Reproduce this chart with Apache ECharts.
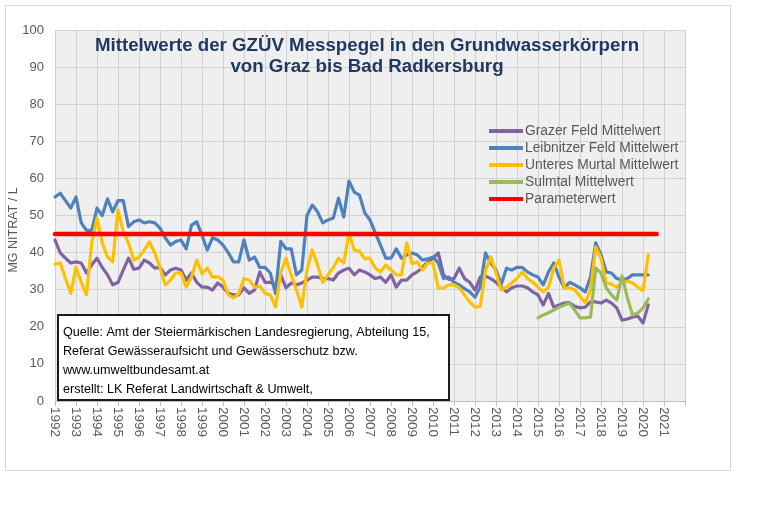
<!DOCTYPE html>
<html>
<head>
<meta charset="utf-8">
<script src="https://cdn.jsdelivr.net/npm/echarts/dist/echarts.min.js"></script>
<style>
html,body{margin:0;padding:0;background:#ffffff;}
#chart{width:759px;height:510px;}
</style>
</head>
<body>
<div id="chart"></div>
<script>
// ---------- data (quarterly readings, first value at startYear) ----------
const startYear = 1992;
const stepYears = 0.25;
const sulmtalStartYear = 2015;

const yearTicks = [1992,1993,1994,1995,1996,1997,1998,1999,2000,2001,2002,2003,2004,2005,2006,
                   2007,2008,2009,2010,2011,2012,2013,2014,2015,2016,2017,2018,2019,2020,2021];

const seriesNames = ['Grazer Feld Mittelwert','Leibnitzer Feld Mittelwert','Unteres Murtal Mittelwert','Sulmtal Mittelwert','Parameterwert'];

const grazerFeld = [43.4,39.9,38.5,37.2, 37.5,37.2,34.5,36.7, 38.5,36,34,31.3, 32,35.3,38.5,35.5,
  35.8,38,37.2,35.8, 36,34,35.3,35.8, 35.3,32.6,34.5,32, 30.7,30.7,29.9,31.8,
  30.7,29,28.6,28.6, 30.5,29,29.9,34.8, 32,32,31.3,34, 30.5,31.8,31.3,31.8,
  32.6,33.4,33.4,33, 33,32.6,34.5,35.3, 35.8,34,35.3,34.8, 34,33,33.4,32,
  34,30.7,32.6,32.6, 34,34.8,36,37.5, 38.5,39.9,34,32.8, 33,35.8,33,32,
  29.9,33.4,33.7,33, 32,30.7,29.4,30.5, 31,31,30.5,29.4, 28.6,25.9,29,25.3,
  25.9,26.4,26.5,25.5, 25.1,25.3,26.7,26.7, 26.4,27.2,26.4,25.1, 21.8,22.1,22.6,22.9,
  21,25.9];

const leibnitzerFeld = [55,56,54,52, 55,48,46,46, 52,50,54.5,51, 54,54,47,48.3,
  48.8,48,48.3,48, 46.6,44,42,43, 43.4,41,47.4,48.3, 44.7,40.7,44,43.4,
  42,40,37.5,37.5, 43.4,38,38.8,36, 36,34.5,29,43, 41,41,34,35.3,
  50,52.8,51,48, 48.8,49.3,54.7,49.6, 59.3,56.3,55.5,50.7, 48.8,45.3,42,38.5,
  38.5,41,38.5,39.4, 39.9,39.4,38,38.3, 38.8,37.2,33,33.4, 32,31.3,30.3,29.4,
  28,30.7,39.9,37.2, 35.3,31.5,35.8,35.3, 36,36,34.8,34, 33.4,31.3,34.8,37.2,
  33.4,30.5,32,31.3, 30.5,29.4,33.4,42.6, 39.4,34.8,34.5,33, 32.6,33,34,34,
  34,34];

const unteresMurtal = [36.9,37.2,33,29, 36,32,28.6,42.6, 49.3,42.6,38.8,37.5, 51.5,45.6,42.6,38,
  38.8,40.7,42.9,39.9, 36,31.3,32.6,34.5, 34.5,30.7,33.4,38, 34.3,35.8,33.4,33.5,
  32.6,28.6,27.8,29, 33,32.6,30.7,31, 29,28.6,25.3,34.5, 38.5,34,29.9,25.3,
  35.3,40.7,36.7,32, 34,36,38.5,37.2, 45.3,40.7,40.4,38.3, 38.5,35.8,34.8,36.7,
  35.3,34,34,42.6, 37,37.5,35.3,37.2, 37.2,30.5,30.5,31.3, 31.3,30.5,28.6,26.7,
  25.3,25.5,35.3,38.8, 34.5,29.9,30.7,31.8, 33,34.8,33,32, 30.7,29.4,30.7,35.8,
  38,30.5,30.5,29.9, 28.2,26.4,30,41.5, 38.5,31.8,31.5,30.7, 32,32.3,31.8,30.7,
  29.7,39.4];

const sulmtal = [22.4,23.2,23.8,24.5, 25.3,25.8,26.4,24.5, 22.4,22.4,22.6,35.8,
  34.5,30.5,28.6,27.2, 33.7,28,23.2,23.7, 25.1,27.5];

const parameterwert = 45;
const parameterYears = [1992, 2020.65];

// ---------- build ----------
function toPairs(values, firstYear) {
  return values.map((v, i) => [firstYear + i * stepYears, v]);
}

const colors = ['#8064A2', '#4F81BD', '#FFC000', '#9BBB59', '#FF0000'];

function lineSeries(name, data, color, width) {
  return {
    name: name,
    type: 'line',
    data: data,
    showSymbol: false,
    symbol: 'none',
    animation: false,
    color: color,
    itemStyle: { color: color },
    lineStyle: { color: color, width: width, join: 'round', cap: 'round' }
  };
}

const chart = echarts.init(document.getElementById('chart'), null, { renderer: 'canvas' });

const labelFont = 'Liberation Sans';

const option = {
  backgroundColor: '#ffffff',
  animation: false,
  grid: {
    left: 55, top: 30, width: 630, height: 371,
    show: true, backgroundColor: '#efefef', borderWidth: 0
  },
  xAxis: {
    type: 'value',
    min: 1992, max: 2022, interval: 1,
    axisLine: { show: true, lineStyle: { color: '#bfbfbf', width: 1 } },
    axisTick: { show: true, length: 5, lineStyle: { color: '#bfbfbf' } },
    splitLine: { show: true, lineStyle: { color: '#d2d2d2', width: 1 } },
    axisLabel: {
      rotate: -90, margin: 6, color: '#595959', fontSize: 13.5, fontFamily: labelFont,
      formatter: function (v) { return yearTicks.indexOf(v) >= 0 ? String(v) : ''; }
    }
  },
  yAxis: {
    type: 'value',
    min: 0, max: 100, interval: 10,
    axisLine: { show: false },
    axisTick: { show: false },
    splitLine: { show: true, lineStyle: { color: '#d2d2d2', width: 1 } },
    axisLabel: { color: '#595959', fontSize: 13, fontFamily: labelFont, margin: 11 }
  },
  legend: {
    orient: 'vertical',
    left: 489, top: 124,
    itemWidth: 34, itemHeight: 4, itemGap: 3,
    icon: 'rect',
    padding: 0,
    data: seriesNames,
    textStyle: { color: '#595959', fontSize: 13.8, fontFamily: labelFont, padding: [0, 0, 0, -3] }
  },
  series: [
    lineSeries(seriesNames[0], toPairs(grazerFeld, startYear), colors[0], 3.2),
    lineSeries(seriesNames[1], toPairs(leibnitzerFeld, startYear), colors[1], 3.2),
    lineSeries(seriesNames[2], toPairs(unteresMurtal, startYear), colors[2], 3.2),
    lineSeries(seriesNames[3], toPairs(sulmtal, sulmtalStartYear), colors[3], 3.2),
    lineSeries(seriesNames[4], parameterYears.map(y => [y, parameterwert]), colors[4], 4.6)
  ],
  graphic: [
    {
      type: 'rect', z: -10, silent: true,
      shape: { x: 5.5, y: 5.5, width: 725, height: 465 },
      style: { fill: 'none', stroke: '#d9d9d9', lineWidth: 1 }
    },
    {
      type: 'text', z: 100, silent: true,
      x: 367, y: 35,
      style: {
        text: 'Mittelwerte der GZÜV Messpegel in den Grundwasserkörpern\nvon Graz bis Bad Radkersburg',
        textAlign: 'center',
        font: 'bold 18.7px "Liberation Sans", Arial, sans-serif',
        lineHeight: 21,
        fill: '#1F3864'
      }
    },
    {
      type: 'text', z: 100, silent: true,
      x: 14, y: 230, rotation: Math.PI / 2,
      style: {
        text: 'MG NITRAT / L',
        textAlign: 'center', textVerticalAlign: 'middle',
        font: '12.5px "Liberation Sans", Arial, sans-serif',
        fill: '#595959'
      }
    },
    {
      type: 'group', z: 100, silent: true,
      children: [
        {
          type: 'rect', z: 100,
          shape: { x: 58, y: 315, width: 391, height: 85 },
          style: { fill: '#ffffff', stroke: '#1a1a1a', lineWidth: 2 }
        },
        {
          type: 'text', z: 101,
          x: 63, y: 323,
          style: {
            text: 'Quelle: Amt der Steiermärkischen Landesregierung, Abteilung 15,\nReferat Gewässeraufsicht und Gewässerschutz bzw.\nwww.umweltbundesamt.at\nerstellt: LK Referat Landwirtschaft & Umwelt,',
            font: '12.6px "Liberation Sans", Arial, sans-serif',
            lineHeight: 19,
            fill: '#000000'
          }
        }
      ]
    }
  ]
};

chart.setOption(option);
</script>
</body>
</html>
